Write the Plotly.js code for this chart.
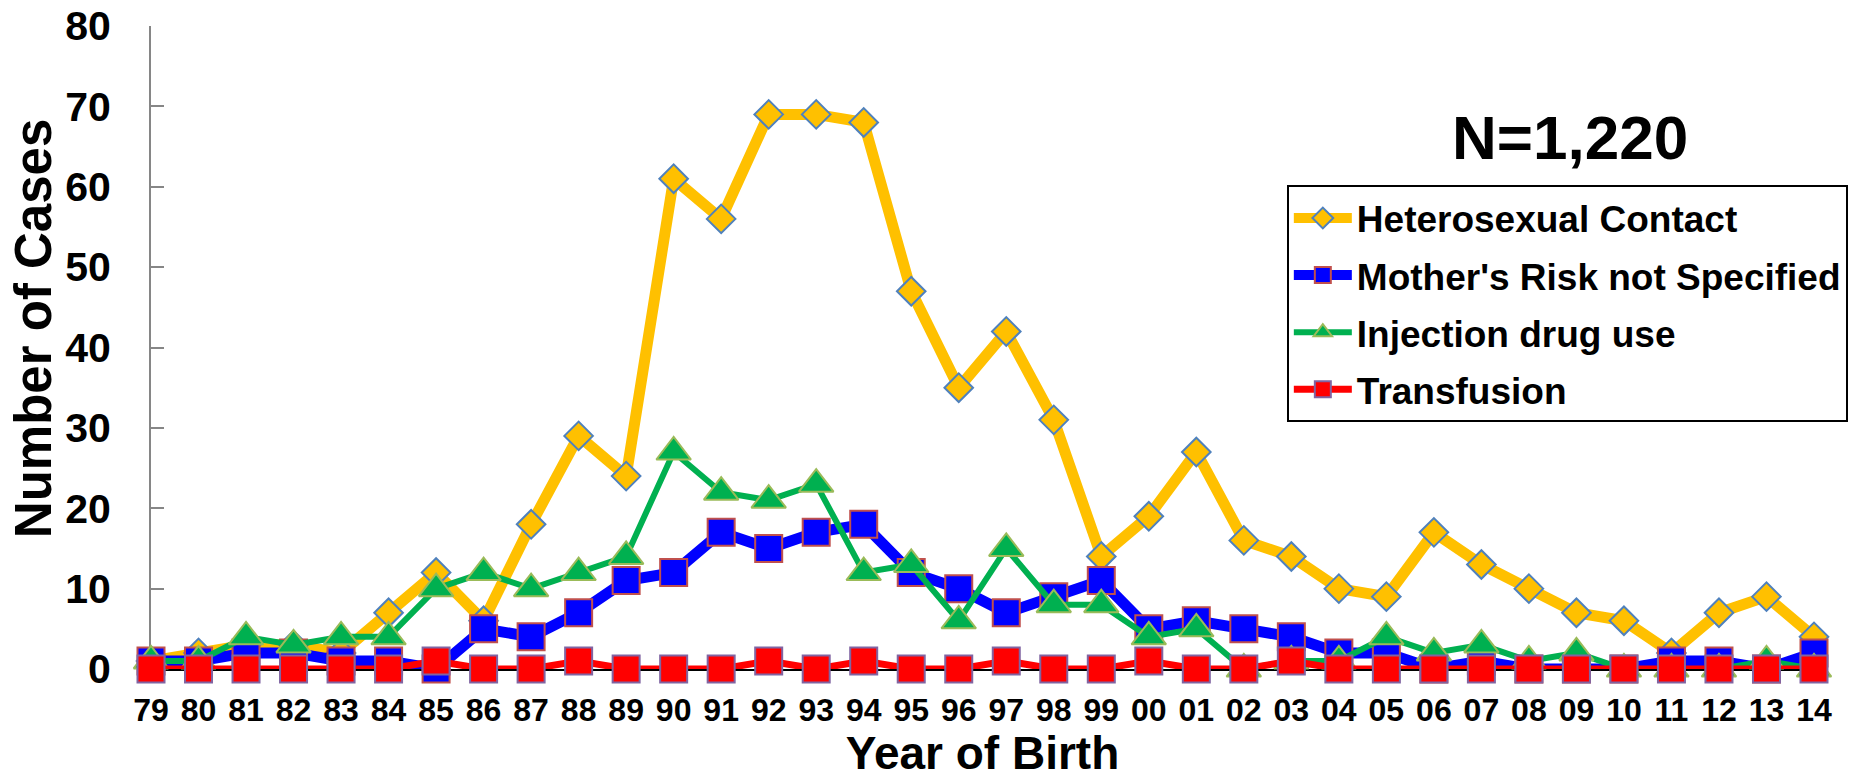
<!DOCTYPE html>
<html>
<head>
<meta charset="utf-8">
<script src="https://cdn.plot.ly/plotly-3.0.1.min.js"></script>
<style>
    html, body { margin: 0; padding: 0; background: #fff; }
    #chart { width: 1868px; height: 779px; }
</style>
</head>
<body>
<div id="chart"></div>
<script>
// anos de nascimento (eixo x)
var years = ['79', '80', '81', '82', '83', '84', '85', '86', '87', '88', '89',
    '90', '91', '92', '93', '94', '95', '96', '97', '98', '99',
    '00', '01', '02', '03', '04', '05', '06', '07', '08', '09', '10', '11', '12', '13', '14'];

var seriesNames = ['Heterosexual Contact', "Mother's Risk not Specified", 'Injection drug use', 'Transfusion'];

var hetero = [1, 2, 3, 3, 2, 7, 12, 6, 18, 29, 24,
    61, 56, 69, 69, 68, 47, 35, 42, 31, 14,
    19, 27, 16, 14, 10, 9, 17, 13, 10, 7, 6, 2, 7, 9, 4];
var motherRisk = [1, 1, 2, 2, 1, 1, 0, 5, 4, 7, 11,
    12, 17, 15, 17, 18, 12, 10, 7, 9, 11,
    5, 6, 5, 4, 2, 2, 0, 1, 0, 0, 0, 1, 1, 0, 2];
var injection = [1, 1, 4, 3, 4, 4, 10, 12, 10, 12, 14,
    27, 22, 21, 23, 12, 13, 6, 15, 8, 8,
    4, 5, 0, 1, 1, 4, 2, 3, 1, 2, 0, 0, 0, 1, 0];
var transfusion = [0, 0, 0, 0, 0, 0, 1, 0, 0, 1, 0,
    0, 0, 1, 0, 1, 0, 0, 1, 0, 0,
    1, 0, 0, 1, 0, 0, 0, 0, 0, 0, 0, 0, 0, 0, 0];

var yTicks = [0, 10, 20, 30, 40, 50, 60, 70, 80];
var totalLabel = 'N=1,220';
var yTitle = 'Number of Cases';

var boldFont = 'Liberation Sans, Arial, sans-serif';

function serie(name, values, lineColor, lineWidth, symbol, size, edgeColor) {
    return {
        x: years,
        y: values,
        name: name,
        legendgroup: name,
        type: 'scatter',
        mode: 'lines+markers',
        cliponaxis: false,
        line: { color: lineColor, width: lineWidth },
        marker: {
            symbol: symbol,
            size: size,
            color: lineColor,
            line: { color: edgeColor, width: 2 }
        }
    };
}

var data = [
    serie(seriesNames[0], hetero, '#FFC000', 11, 'diamond', 22, '#4F81BD'),
    serie(seriesNames[1], motherRisk, '#0000FF', 11, 'square', 27, '#C0504D'),
    serie(seriesNames[2], injection, '#00B050', 6, 'triangle-up', 30, '#9BBB59'),
    serie(seriesNames[3], transfusion, '#FF0000', 7, 'square', 27, '#8064A2')
];

var layout = {
    width: 1868,
    height: 779,
    margin: { l: 151, r: 54, t: 26, b: 110, pad: 0 },
    paper_bgcolor: '#ffffff',
    plot_bgcolor: '#ffffff',
    showlegend: true,
    xaxis: {
        type: 'category',
        range: [0, years.length - 1],
        showgrid: false,
        zeroline: false,
        showline: true,
        linecolor: '#000000',
        linewidth: 2,
        ticks: '',
        ticklabelstandoff: 12,
        layer: 'below traces',
        tickfont: { family: boldFont, size: 32, color: '#000', weight: 'bold' },
        title: {
            text: 'Year of Birth',
            font: { family: boldFont, size: 46, color: '#000', weight: 'bold' },
            standoff: 14
        },
        automargin: false
    },
    yaxis: {
        range: [0, 80],
        tickvals: yTicks,
        showgrid: false,
        zeroline: false,
        showline: true,
        linecolor: '#868686',
        linewidth: 2,
        ticks: 'inside',
        ticklen: 13,
        tickwidth: 2,
        tickcolor: '#868686',
        ticklabelstandoff: 30,
        layer: 'below traces',
        tickfont: { family: boldFont, size: 41, color: '#000', weight: 'bold' },
        automargin: false
    },
    legend: {
        x: 0.683,
        y: 0.752,
        xanchor: 'left',
        yanchor: 'top',
        bgcolor: '#ffffff',
        bordercolor: '#000000',
        borderwidth: 2,
        traceorder: 'grouped',
        tracegroupgap: 6,
        itemwidth: 58,
        font: { family: boldFont, size: 37, color: '#000', weight: 'bold' }
    },
    annotations: [{
        // titulo do eixo y (um pouco acima do centro, como no original)
        text: yTitle,
        xref: 'paper',
        yref: 'paper',
        x: -0.071,
        y: 0.53,
        xanchor: 'center',
        yanchor: 'middle',
        textangle: -90,
        showarrow: false,
        font: { family: boldFont, size: 51, color: '#000', weight: 'bold' }
    }, {
        text: totalLabel,
        xref: 'paper',
        yref: 'paper',
        x: 0.853,
        y: 0.826,
        xanchor: 'center',
        yanchor: 'middle',
        showarrow: false,
        font: { family: boldFont, size: 62, color: '#000', weight: 'bold' }
    }]
};

Plotly.newPlot('chart', data, layout, { displayModeBar: false, staticPlot: true });
</script>
</body>
</html>
